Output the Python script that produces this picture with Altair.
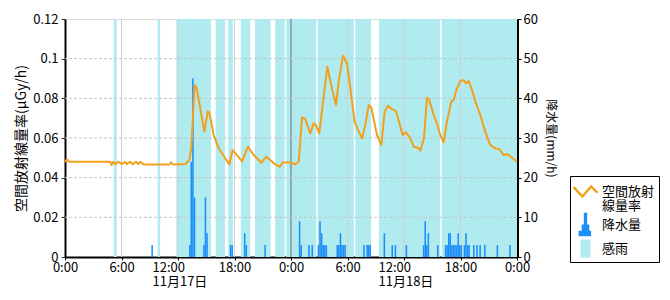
import math
import altair as alt
import pandas as pd

FONT = "Noto Sans CJK JP"

# ---------------- data ----------------
line_h = [0, 0.2, 0.45, 4.8, 4.95, 5.1, 5.31, 5.66, 6.02, 6.37, 6.55, 6.9, 7.19, 7.54, 7.78, 8.0, 8.35,
          11.1, 11.26, 11.45, 12.78, 13.2, 13.41, 13.67, 13.77, 13.94, 14.37, 14.79, 15.15, 15.32, 15.79,
          16.32, 17.02, 17.45, 17.81, 18.27, 18.8, 19.43, 20.04, 20.85, 21.34, 21.8, 22.27, 22.8, 23.12,
          23.92, 24.39, 24.82, 25.17, 25.52, 26.05, 26.41, 26.65, 27.0, 27.47, 27.85, 28.35, 28.78, 29.06,
          29.52, 29.95, 30.3, 30.76, 31.11, 31.54, 31.89, 32.25, 32.53, 33.13, 33.59, 33.95, 34.3, 34.72,
          35.15, 35.86, 36.21, 36.67, 37.03, 37.49, 37.73, 38.12, 38.44, 38.69, 39.15, 39.5, 39.85, 40.21,
          40.56, 41.02, 41.31, 41.55, 41.98, 42.34, 42.59, 42.87, 43.22, 43.57, 44.1, 44.63, 45.16, 45.69,
          46.12, 46.59, 47.04, 47.47, 48.0]
line_v = [0.048, 0.0492, 0.048, 0.048, 0.0464, 0.048, 0.0468, 0.048, 0.0468, 0.048, 0.0468, 0.048, 0.0468,
          0.048, 0.0468, 0.048, 0.0467, 0.0467, 0.0477, 0.0467, 0.0469, 0.0489, 0.0548, 0.0783, 0.0867,
          0.0858, 0.075, 0.0632, 0.0733, 0.073, 0.0615, 0.0548, 0.0497, 0.0467, 0.0539, 0.0514, 0.0482,
          0.0556, 0.0514, 0.0475, 0.0506, 0.0489, 0.0469, 0.0455, 0.0477, 0.0477, 0.0467, 0.048, 0.0704,
          0.0696, 0.0623, 0.0674, 0.0665, 0.0623, 0.0808, 0.0959, 0.085, 0.0766, 0.0884, 0.1015, 0.0976,
          0.085, 0.0682, 0.064, 0.0598, 0.0665, 0.0766, 0.0753, 0.0615, 0.0565, 0.0733, 0.0763, 0.0746,
          0.0736, 0.0615, 0.0629, 0.0598, 0.0556, 0.0551, 0.0536, 0.0598, 0.0803, 0.0791, 0.0716, 0.0674,
          0.0615, 0.0578, 0.0682, 0.0783, 0.0795, 0.0842, 0.0887, 0.0892, 0.0875, 0.0887, 0.0842, 0.0786,
          0.0716, 0.0632, 0.0565, 0.0548, 0.0544, 0.0514, 0.0518, 0.05, 0.048]

rain_h = [9.17, 13.17, 13.33, 13.5, 13.67, 14.67, 14.83, 15.0, 17.5, 17.67, 19.0, 19.17, 21.17,
          24.83, 25.0, 25.83, 26.17, 26.83, 27.0, 27.17, 27.33, 27.5, 27.67,
          28.83, 29.0, 29.17, 29.33, 29.5, 29.67, 31.67, 32.0, 32.17, 32.33, 33.83, 34.67, 35.0, 36.17,
          38.0, 38.17, 38.33, 38.5, 39.5, 40.33, 40.5, 40.67, 40.83, 41.0, 41.17, 41.33, 41.5, 41.67,
          41.83, 42.0, 42.33, 42.5, 42.67, 42.83, 43.33, 43.67, 44.0, 44.5, 45.83, 47.17]
rain_v = [3, 3, 24, 45, 15, 3, 15, 6, 3, 3, 6, 3, 3,
          9, 3, 3, 3, 3, 9, 6, 3, 3, 3,
          3, 3, 6, 3, 3, 3, 3, 3, 3, 3, 6, 3, 3, 3,
          3, 9, 3, 6, 3, 3, 3, 6, 6, 3, 3, 3, 3, 6,
          3, 3, 3, 6, 3, 3, 3, 3, 3, 3, 3, 3]

band_start = [5.17, 9.83, 11.83, 16.0, 17.33, 18.67, 20.17, 22.33, 23.5, 26.83, 30.83, 33.33, 40.0]
band_end = [5.5, 10.1, 15.5, 17.0, 17.83, 19.67, 21.83, 23.33, 26.67, 30.67, 32.5, 39.83, 48.0]

series = ["空間放射線量率", "降水量", "感雨"]
series_colors = ["#f2a01c", "#1e8ff8", "#b0ecef"]

x_ticks = [0, 6, 12, 18, 24, 30, 36, 42, 48]
date_ticks = [12, 36]
y_left_ticks = [0, 0.02, 0.04, 0.06, 0.08, 0.1, 0.12]
y_right_ticks = [0, 10, 20, 30, 40, 50, 60]
grid_h = [0.02, 0.04, 0.06, 0.08, 0.1]
grid_v = [6, 12, 18, 30, 36, 42]
grid_day = [24]


# ---------------- legend symbols ----------------
def thick_path(pts, hw):
    n = len(pts)
    normals = []
    for i in range(n - 1):
        dx = pts[i + 1][0] - pts[i][0]
        dy = pts[i + 1][1] - pts[i][1]
        L = math.hypot(dx, dy)
        normals.append((-dy / L, dx / L))
    left, right = [], []
    for i in range(n):
        if i == 0:
            nx, ny = normals[0]
            s = hw
        elif i == n - 1:
            nx, ny = normals[-1]
            s = hw
        else:
            ax, ay = normals[i - 1]
            bx, by = normals[i]
            mx, my = ax + bx, ay + by
            ml = math.hypot(mx, my)
            nx, ny = mx / ml, my / ml
            cos = nx * ax + ny * ay
            s = hw / cos
        left.append((pts[i][0] + nx * s, pts[i][1] + ny * s))
        right.append((pts[i][0] - nx * s, pts[i][1] - ny * s))
    poly = left + right[::-1]
    return "M " + " L ".join(f"{x:.3f} {y:.3f}" for x, y in poly) + " Z"


K = 1.12  # symbol unit scale (symbolSize 500)
zig = thick_path([(-0.95 * K, -0.35 * K), (-0.25 * K, 0.4 * K), (0.45 * K, -0.4 * K), (0.95 * K, 0.1 * K)],
                 0.11)
bar_glyph = ("M -0.15 -1.04 L 0.15 -1.04 L 0.15 0 L 0.34 0 L 0.34 0.56 L 0.5 0.56 L 0.5 1.04 "
             "L -0.62 1.04 L -0.62 0.56 L -0.34 0.56 L -0.34 0 L -0.15 0 Z")
square = "M -0.45 -0.8 L 0.45 -0.8 L 0.45 0.8 L -0.45 0.8 Z"

# ---------------- frames ----------------
line_df = pd.DataFrame({"h": line_h, "v": line_v})
rain_df = pd.DataFrame({"h": rain_h, "mm": rain_v})
band_df = pd.DataFrame({"h": band_start, "h2": band_end})
legend_df = pd.DataFrame({"series": series, "h": [-10] * len(series)})

is_date = " || ".join(f"datum.value == {d}" for d in date_ticks)
x_label_expr = (
    "datum.value == 12 ? ['12:00', '11月17日'] : "
    "datum.value == 36 ? ['12:00', '11月18日'] : "
    "(datum.value % 24) + ':00'"
)

x_scale = alt.Scale(domain=[0, 48], nice=False, zero=False)
x_axis = alt.Axis(values=x_ticks, labelExpr=x_label_expr, title=None, grid=False,
                  labelFont=FONT, labelFontSize=13, labelColor="black", labelFlush=False,
                  labelOverlap=False, labelLineHeight=14, tickSize=3, tickColor="black",
                  labelAlign={"condition": {"test": is_date, "value": "left"}, "value": "center"},
                  labelOffset={"condition": {"test": is_date, "value": -26}, "value": 0},
                  labelPadding=1, domainColor="black", domainWidth=2)

yl_scale = alt.Scale(domain=[0, 0.12], nice=False, zero=True)
yr_scale = alt.Scale(domain=[0, 60], nice=False, zero=True)

bands = alt.Chart(band_df).mark_rect(color=series_colors[2]).encode(
    x=alt.X("h:Q", scale=x_scale, axis=x_axis),
    x2="h2:Q",
)

vgrid = alt.Chart(pd.DataFrame({"h": grid_v})).mark_rule(color="#cfcfcf", strokeWidth=1).encode(
    x=alt.X("h:Q", scale=x_scale, axis=x_axis)
)
dgrid = alt.Chart(pd.DataFrame({"h": grid_day})).mark_rule(color="#707070", strokeWidth=1).encode(
    x=alt.X("h:Q", scale=x_scale, axis=x_axis)
)
hgrid = alt.Chart(pd.DataFrame({"v": grid_h})).mark_rule(
    color="#c4c4c4", strokeWidth=1, strokeDash=[3, 2]
).encode(y=alt.Y("v:Q", scale=yl_scale, axis=None))

bars = alt.Chart(rain_df).transform_calculate(h2="datum.h + 1/6").mark_rect(
    color=series_colors[1]
).encode(
    x=alt.X("h:Q", scale=x_scale, axis=x_axis),
    x2="h2:Q",
    y=alt.Y("mm:Q", scale=yr_scale, axis=alt.Axis(
        orient="right", values=y_right_ticks, title="降水量(mm/h)", titleFont=FONT,
        titleFontSize=12, titleFontWeight="normal", titleColor="black", titlePadding=6,
        labelFont=FONT, labelFontSize=13, labelColor="black", tickSize=4, tickColor="black",
        labelPadding=2, domainColor="black", domainWidth=3, grid=False)),
    y2=alt.datum(0),
)

line = alt.Chart(line_df).mark_line(color=series_colors[0], strokeWidth=2, strokeJoin="round").encode(
    x=alt.X("h:Q", scale=x_scale, axis=x_axis),
    y=alt.Y("v:Q", scale=yl_scale, axis=alt.Axis(
        values=y_left_ticks, format=".2~f", title="空間放射線量率(μGy/h)", titleFont=FONT,
        titleFontSize=14, titleFontWeight="normal", titleColor="black", titlePadding=4,
        labelFont=FONT, labelFontSize=13, labelColor="black", tickSize=4, tickColor="#333333",
        labelPadding=3, domainColor="black", domainWidth=2, grid=False)),
)

leg = alt.Legend(title=None, orient="none", legendX=505, legendY=157, symbolSize=500,
                 symbolStrokeWidth=0, symbolOpacity=1, labelFont=FONT, labelFontSize=13,
                 labelColor="black", labelOffset=5, labelLimit=300, padding=4, rowPadding=-2,
                 strokeColor="black", fillColor="white",
                 labelExpr="datum.label == '空間放射線量率' ? ['空間放射', '線量率'] : datum.label")

legend_layer = alt.Chart(legend_df).mark_point(filled=True, opacity=1, clip=True, size=10).encode(
    x=alt.X("h:Q", scale=x_scale, axis=x_axis),
    color=alt.Color("series:N", scale=alt.Scale(domain=series, range=series_colors), legend=leg),
    shape=alt.Shape("series:N", scale=alt.Scale(domain=series, range=[zig, bar_glyph, square]), legend=leg),
)

chart = alt.layer(bands, vgrid, dgrid, hgrid, bars, line, legend_layer).resolve_scale(
    y="independent"
).properties(
    width=452, height=238,
    autosize=alt.AutoSizeParams(type="none"),
    padding={"left": 65, "top": 19, "right": 153, "bottom": 43},
    background="white",
).configure_view(
    stroke="#888888", strokeWidth=2
).configure(
    style={"guide-label": {"lineHeight": 14}}
)

chart.save("out.html", embed_options={"renderer": "svg", "actions": False})
